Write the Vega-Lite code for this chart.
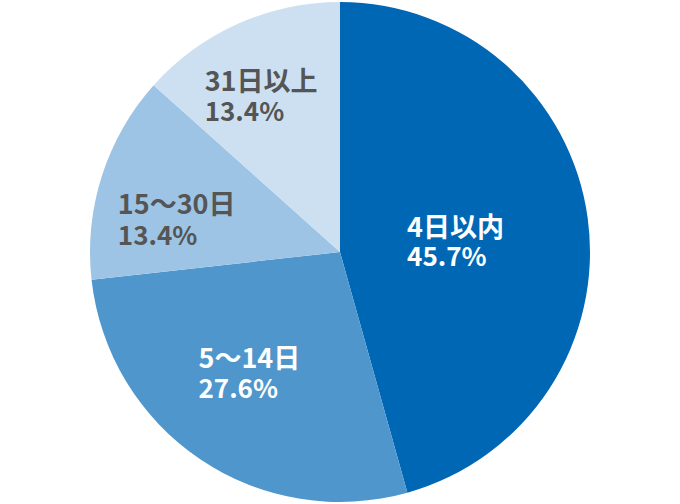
{
  "$schema": "https://vega.github.io/schema/vega-lite/v6.json",
  "width": 680,
  "height": 504,
  "padding": 0,
  "autosize": {"type": "fit", "contains": "padding"},
  "background": "white",
  "view": {"stroke": null},
  "data": {
    "values": [
      {"cat": "4日以内", "pct": 45.7, "label": "45.7%", "k": 1},
      {"cat": "5〜14日", "pct": 27.6, "label": "27.6%", "k": 2},
      {"cat": "15〜30日", "pct": 13.4, "label": "13.4%", "k": 3},
      {"cat": "31日以上", "pct": 13.4, "label": "13.4%", "k": 4}
    ]
  },
  "encoding": {
    "theta": {"field": "pct", "type": "quantitative", "stack": true},
    "order": {"field": "k", "type": "quantitative"}
  },
  "layer": [
    {
      "mark": {"type": "arc", "outerRadius": 250, "stroke": null},
      "encoding": {
        "color": {
          "field": "cat",
          "type": "nominal",
          "scale": {
            "domain": ["4日以内", "5〜14日", "15〜30日", "31日以上"],
            "range": ["#0067B5", "#4F96CD", "#9DC4E4", "#CCE0F2"]
          },
          "legend": null
        }
      }
    },
    {
      "mark": {"type": "text", "radius": 100, "dx": -32, "dy": -9.5, "align": "left", "baseline": "middle", "font": "Noto Sans CJK JP", "fontSize": 27, "fontWeight": 600, "color": "white"},
      "encoding": {"text": {"condition": {"test": "datum.k === 1", "field": "cat"}, "value": ""}}
    },
    {
      "mark": {"type": "text", "radius": 100, "dx": -32, "dy": 19.5, "align": "left", "baseline": "middle", "font": "Noto Sans CJK JP", "fontSize": 26, "fontWeight": "bold", "color": "white"},
      "encoding": {"text": {"condition": {"test": "datum.k === 1", "field": "label"}, "value": ""}}
    },
    {
      "mark": {"type": "text", "radius": 150, "dx": -57.7, "dy": -16.1, "align": "left", "baseline": "middle", "font": "Noto Sans CJK JP", "fontSize": 27, "fontWeight": 600, "color": "white"},
      "encoding": {"text": {"condition": {"test": "datum.k === 2", "field": "cat"}, "value": ""}}
    },
    {
      "mark": {"type": "text", "radius": 150, "dx": -57.7, "dy": 13.9, "align": "left", "baseline": "middle", "font": "Noto Sans CJK JP", "fontSize": 26, "fontWeight": "bold", "color": "white"},
      "encoding": {"text": {"condition": {"test": "datum.k === 2", "field": "label"}, "value": ""}}
    },
    {
      "mark": {"type": "text", "radius": 150, "dx": -79.3, "dy": -0.6, "align": "left", "baseline": "middle", "font": "Noto Sans CJK JP", "fontSize": 27, "fontWeight": 600, "color": "#555555"},
      "encoding": {"text": {"condition": {"test": "datum.k === 3", "field": "cat"}, "value": ""}}
    },
    {
      "mark": {"type": "text", "radius": 150, "dx": -79.3, "dy": 30.4, "align": "left", "baseline": "middle", "font": "Noto Sans CJK JP", "fontSize": 26, "fontWeight": "bold", "color": "#555555"},
      "encoding": {"text": {"condition": {"test": "datum.k === 3", "field": "label"}, "value": ""}}
    },
    {
      "mark": {"type": "text", "radius": 150, "dx": -74.1, "dy": -31.9, "align": "left", "baseline": "middle", "font": "Noto Sans CJK JP", "fontSize": 27, "fontWeight": 600, "color": "#555555"},
      "encoding": {"text": {"condition": {"test": "datum.k === 4", "field": "cat"}, "value": ""}}
    },
    {
      "mark": {"type": "text", "radius": 150, "dx": -74.1, "dy": -1.9, "align": "left", "baseline": "middle", "font": "Noto Sans CJK JP", "fontSize": 26, "fontWeight": "bold", "color": "#555555"},
      "encoding": {"text": {"condition": {"test": "datum.k === 4", "field": "label"}, "value": ""}}
    }
  ]
}
